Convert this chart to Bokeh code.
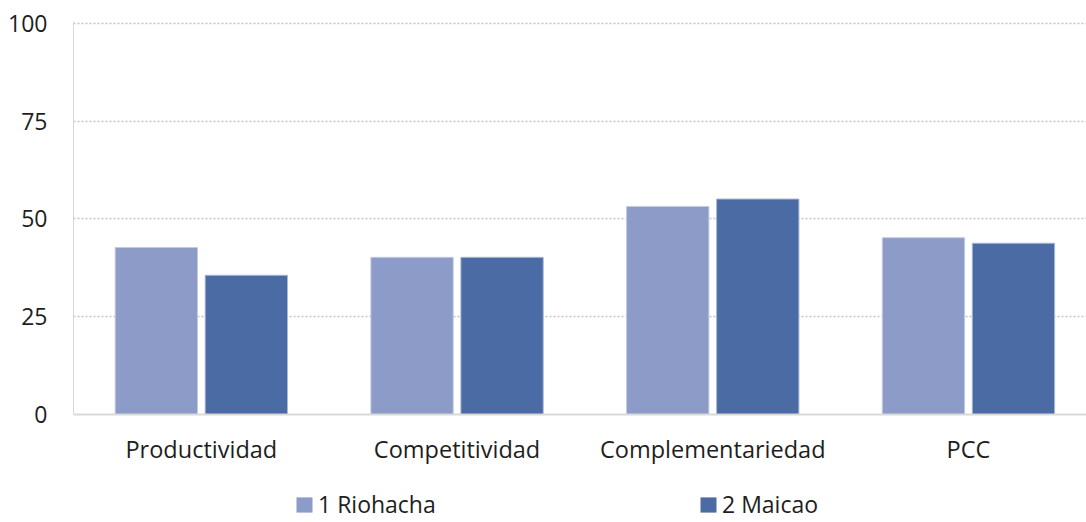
from bokeh.plotting import figure
from bokeh.layouts import column
from bokeh.models import (Range1d, FixedTicker, Legend, LegendItem, ColumnDataSource)
from bokeh.embed import file_html
from bokeh.resources import INLINE

categories = ["Productividad", "Competitividad", "Complementariedad", "PCC"]
series_names = ["1 Riohacha", "2 Maicao"]
riohacha = [42.7, 40.2, 53.2, 45.2]
maicao = [35.6, 40.2, 55.1, 43.8]
y_ticks = [0, 25, 50, 75, 100]

colors = ["#8c9bc7", "#4a6ba3"]
edge_colors = ["#c3cbe3", "#a9b8d3"]
FONT = "Open Sans"
TEXT = "#1e1e1e"

centers = [i + 0.5 for i in range(len(categories))]
offset = 0.176
bar_w = 0.322

W = 1086
left_border = 73
frame_w = W - left_border
px_per_cat = 255.7

p = figure(width=W, height=475,
           x_range=Range1d(0, frame_w / px_per_cat), y_range=Range1d(0, 100.5),
           output_backend="svg", toolbar_location=None,
           min_border_left=left_border, min_border_right=0, min_border_top=21,
           min_border_bottom=61)
p.outline_line_color = None
p.background_fill_color = "white"
p.border_fill_color = "white"

src1 = ColumnDataSource(dict(x=[c - offset for c in centers], top=riohacha))
src2 = ColumnDataSource(dict(x=[c + offset for c in centers], top=maicao))
p.vbar(x="x", top="top", bottom=0, width=bar_w, source=src1,
       fill_color=colors[0], line_color=edge_colors[0], line_width=1)
p.vbar(x="x", top="top", bottom=0, width=bar_w, source=src2,
       fill_color=colors[1], line_color=edge_colors[1], line_width=1)

# axes
p.xaxis.ticker = FixedTicker(ticks=centers)
p.xaxis.major_label_overrides = {c: name for c, name in zip(centers, categories)}
p.xaxis.axis_line_color = "#d9d9d9"
p.xaxis.axis_line_width = 2
p.xaxis.major_tick_line_color = None
p.xaxis.minor_tick_line_color = None
p.xaxis.major_label_standoff = 12
p.xaxis.major_label_text_font = FONT
p.xaxis.major_label_text_font_size = "23.5px"
p.xaxis.major_label_text_color = TEXT

p.yaxis.ticker = FixedTicker(ticks=y_ticks)
p.yaxis.axis_line_color = "#d9d9d9"
p.yaxis.axis_line_width = 1
p.yaxis.major_tick_line_color = None
p.yaxis.minor_tick_line_color = None
p.yaxis.major_label_standoff = 20
p.yaxis.major_label_text_font = FONT
p.yaxis.major_label_text_font_size = "23px"
p.yaxis.major_label_text_color = TEXT

p.xgrid.grid_line_color = None
p.ygrid.ticker = FixedTicker(ticks=y_ticks[1:])
p.ygrid.grid_line_color = "#c4c4c4"
p.ygrid.grid_line_dash = "2 2"
p.ygrid.grid_line_width = 1.5

# legend strip below the chart (its frame is aligned with the chart's frame);
# the bars of this strip lie far outside its y range, only their legend swatches show
lg = figure(width=W, height=47, x_range=p.x_range, y_range=Range1d(1000, 1001),
            output_backend="svg", toolbar_location=None,
            x_axis_type=None, y_axis_type=None,
            min_border_left=0, min_border_right=0, min_border_top=0,
            min_border_bottom=0)
lg.outline_line_color = None
lg.xgrid.visible = False
lg.ygrid.visible = False
lr1 = lg.vbar(x="x", top="top", bottom=0, width=bar_w, source=src1,
              fill_color=colors[0], line_color=None)
lr2 = lg.vbar(x="x", top="top", bottom=0, width=bar_w, source=src2,
              fill_color=colors[1], line_color=None)

legend = Legend(items=[LegendItem(label=series_names[0], renderers=[lr1]),
                       LegendItem(label=series_names[1], renderers=[lr2])],
                orientation="horizontal", location=(221, 2),
                glyph_width=20, glyph_height=19, label_standoff=4,
                label_width=132, spacing=248, padding=0, margin=0,
                border_line_color=None, background_fill_alpha=0,
                label_text_font=FONT, label_text_font_size="23px",
                label_text_color=TEXT)
lg.add_layout(legend, "center")

layout = column(p, lg, spacing=0)
open("out.html", "w").write(file_html(layout, INLINE))
